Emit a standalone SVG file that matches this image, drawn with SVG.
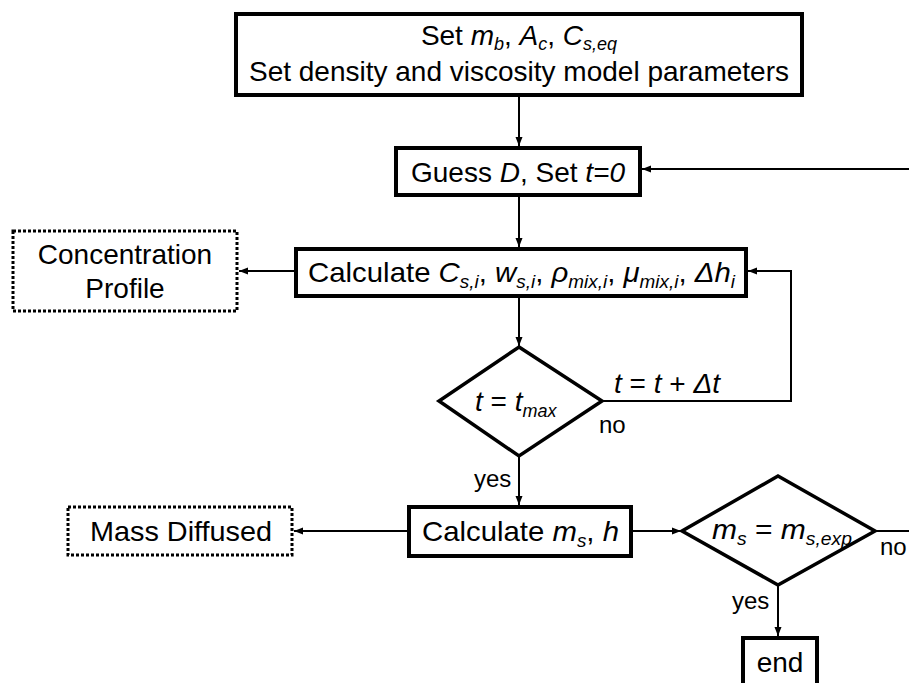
<svg xmlns="http://www.w3.org/2000/svg" width="909" height="683" viewBox="0 0 909 683">
<style>
text{font-family:"Liberation Sans",Arial,sans-serif;fill:#000}
.t{font-size:28px}
.s{font-size:18px}
.l{font-size:24px}
.i{font-style:italic}
.box{fill:#fff;stroke:#000;stroke-width:4}
.dia{fill:#fff;stroke:#000;stroke-width:3.5}
.dot{fill:#fff;stroke:#000;stroke-width:3;stroke-dasharray:3 2}
.c{fill:none;stroke:#000;stroke-width:2}
</style>
<defs>
<marker id="a" markerUnits="userSpaceOnUse" markerWidth="10" markerHeight="10" refX="9" refY="5" orient="auto">
<path d="M0,1.5 L9,5 L0,8.5 Z" fill="#000"/>
</marker>
</defs>
<g id="connectors">
<line class="c" x1="519" y1="96" x2="519" y2="146" marker-end="url(#a)"/>
<line class="c" x1="909" y1="169" x2="642" y2="169" marker-end="url(#a)"/>
<line class="c" x1="519" y1="196" x2="519" y2="247" marker-end="url(#a)"/>
<line class="c" x1="296" y1="271" x2="239" y2="271" marker-end="url(#a)"/>
<line class="c" x1="519" y1="297" x2="519" y2="346" marker-end="url(#a)"/>
<polyline class="c" points="602,401 791,401 791,271 748,271" marker-end="url(#a)"/>
<line class="c" x1="519" y1="457" x2="519" y2="505" marker-end="url(#a)"/>
<line class="c" x1="409" y1="531" x2="294" y2="531" marker-end="url(#a)"/>
<line class="c" x1="632" y1="531" x2="681" y2="531" marker-end="url(#a)"/>
<line class="c" x1="875" y1="531" x2="909" y2="531"/>
<line class="c" x1="778" y1="586" x2="778" y2="636" marker-end="url(#a)"/>
<text class="t" x="614" y="393"><tspan class="i">t</tspan> = <tspan class="i">t</tspan> + <tspan class="i">Δt</tspan></text>
<text class="l" x="599" y="433">no</text>
<text class="l" x="474" y="487">yes</text>
<text class="l" x="880" y="555">no</text>
<text class="l" x="732" y="609">yes</text>
</g>
<g id="setparams">
<rect class="box" x="236" y="14" width="566" height="81"/>
<text class="t" x="519" y="45" text-anchor="middle">Set <tspan class="i">m</tspan><tspan class="s i" dy="5">b</tspan><tspan dy="-5">, </tspan><tspan class="i">A</tspan><tspan class="s i" dy="5">c</tspan><tspan dy="-5">, </tspan><tspan class="i">C</tspan><tspan class="s i" dy="5">s,eq</tspan></text>
<text class="t" x="519" y="81" text-anchor="middle">Set density and viscosity model parameters</text>
</g>
<g id="guess">
<rect class="box" x="396" y="148" width="244" height="47"/>
<text class="t" x="518" y="182" text-anchor="middle">Guess <tspan class="i">D</tspan>, Set <tspan class="i">t=0</tspan></text>
</g>
<g id="concprofile">
<rect class="dot" x="13" y="231" width="224" height="80"/>
<text class="t" x="125" y="264" text-anchor="middle">Concentration</text>
<text class="t" x="125" y="298" text-anchor="middle">Profile</text>
</g>
<g id="calc1">
<rect class="box" x="296" y="249" width="450" height="47"/>
<text class="t" x="308" y="282" textLength="427" lengthAdjust="spacingAndGlyphs">Calculate <tspan class="i">C</tspan><tspan class="s i" dy="6">s,i</tspan><tspan dy="-6">, </tspan><tspan class="i">w</tspan><tspan class="s i" dy="6">s,i</tspan><tspan dy="-6">, </tspan><tspan class="i">ρ</tspan><tspan class="s i" dy="6">mix,i</tspan><tspan dy="-6">, </tspan><tspan class="i">μ</tspan><tspan class="s i" dy="6">mix,i</tspan><tspan dy="-6">, </tspan><tspan class="i">Δh</tspan><tspan class="s i" dy="6">i</tspan></text>
</g>
<g id="decision1">
<polygon class="dia" points="519,347 602,401 519,456 439,401"/>
<text class="t" x="475" y="411"><tspan class="i">t</tspan> = <tspan class="i">t</tspan><tspan class="s i" dy="6">max</tspan></text>
</g>
<g id="massdiffused">
<rect class="dot" x="68" y="507" width="224" height="48"/>
<text class="t" x="90" y="541" textLength="182" lengthAdjust="spacingAndGlyphs">Mass Diffused</text>
</g>
<g id="calc2">
<rect class="box" x="409" y="507" width="222" height="49"/>
<text class="t" x="422" y="541" textLength="197" lengthAdjust="spacingAndGlyphs">Calculate <tspan class="i">m</tspan><tspan class="s i" dy="6">s</tspan><tspan dy="-6">, </tspan><tspan class="i">h</tspan></text>
</g>
<g id="decision2">
<polygon class="dia" points="778,476 875,531 778,585 682,531"/>
<text class="t" x="712" y="539" textLength="140" lengthAdjust="spacingAndGlyphs"><tspan class="i">m</tspan><tspan class="s i" dy="6">s</tspan><tspan dy="-6"> = </tspan><tspan class="i">m</tspan><tspan class="s i" dy="6">s,exp</tspan></text>
</g>
<g id="end">
<rect class="box" x="743" y="638" width="74" height="60"/>
<text class="t" x="780" y="672" text-anchor="middle">end</text>
</g>
</svg>
